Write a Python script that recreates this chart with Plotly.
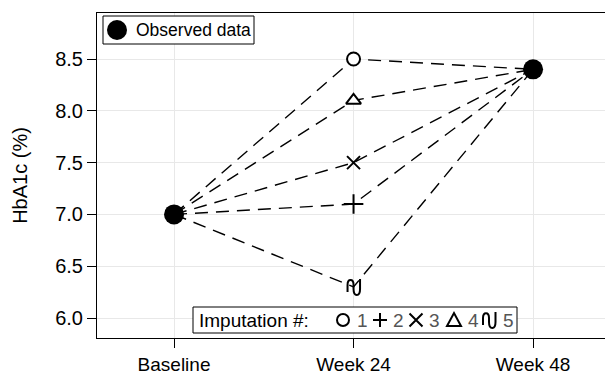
import plotly.graph_objects as go

visits = ["Baseline", "Week 24", "Week 48"]
baseline_value = 7.0
week48_value = 8.4
imputation_ids = ["1", "2", "3", "4", "5"]
week24_values = [8.5, 7.1, 7.5, 8.1, 6.3]
y_ticks = [6.0, 6.5, 7.0, 7.5, 8.0, 8.5]
observed_label = "Observed data"

FONT = "Liberation Sans"
# page body has an 8px default margin, so the figure is drawn at (8, 8)
OFF = 8
W, H = 613 - OFF, 375 - OFF
PLOT_L, PLOT_R, PLOT_T, PLOT_B = 97, 609, 13, 338   # page pixels of the plot frame
L = PLOT_L - OFF
T = PLOT_T - OFF
R = W - (PLOT_R - OFF)
B = H - (PLOT_B - OFF)
PW, PH = PLOT_R - PLOT_L, PLOT_B - PLOT_T


def px(xp):
    return (xp - PLOT_L) / PW


def py(yp):
    return (PLOT_B - yp) / PH


# pixel-relative glyph paths (style only)
PLUS = "M -7,0 L 7,0 M 0,-7 L 0,7"
XMARK = "M -6.5,-6.5 L 6.5,6.5 M -6.5,6.5 L 6.5,-6.5"
TRI = "M -7,-6 L 7,-6 L 0,7 Z"
WAVE = "M -6,-5 L -6,2 C -6,8.5 0,8.5 0,2 L 0,-2 C 0,-10 6.5,-10 6.5,-2 L 6.5,8"

fig = go.Figure()

# dashed lines for each imputation
for v in week24_values:
    fig.add_trace(go.Scatter(
        x=visits, y=[baseline_value, v, week48_value], mode="lines",
        line=dict(color="black", width=1.4, dash="13px,8px"),
        showlegend=False, hoverinfo="skip"))

# imputation markers 1-4
symbols = ["circle", "cross-thin-open", "x-thin-open", "triangle-up"]
sizes = [13, 14, 13, 13]
for i in range(4):
    fill = "white" if symbols[i] in ("circle", "triangle-up") else "black"
    fig.add_trace(go.Scatter(
        x=[visits[1]], y=[week24_values[i]], mode="markers",
        marker=dict(symbol=symbols[i], size=sizes[i], color=fill,
                    line=dict(color="black", width=2)),
        showlegend=False, hoverinfo="skip"))

# imputation 5 marker (tilde glyph anchored at the data point)
fig.add_shape(type="path", xref="x", yref="y", xsizemode="pixel", ysizemode="pixel",
              xanchor=visits[1], yanchor=week24_values[4], path=WAVE,
              line=dict(color="black", width=2))

# observed data
fig.add_trace(go.Scatter(
    x=[visits[0], visits[2]], y=[baseline_value, week48_value], mode="markers",
    marker=dict(symbol="circle", size=20, color="black"),
    name=observed_label, showlegend=False))

# top-left legend box (observed data)
fig.add_shape(type="rect", xref="paper", yref="paper",
              x0=px(103), x1=px(254), y0=py(44), y1=py(16),
              line=dict(color="black", width=1), fillcolor="white", layer="above")
fig.add_shape(type="circle", xref="paper", yref="paper", xsizemode="pixel",
              ysizemode="pixel", xanchor=px(117), yanchor=py(30), x0=-10, x1=10,
              y0=-10, y1=10, line=dict(color="black", width=0), fillcolor="black",
              layer="above")
fig.add_annotation(x=px(134), y=py(30), xref="paper", yref="paper", xanchor="left",
                   yanchor="middle", text=observed_label, showarrow=False,
                   font=dict(family=FONT, size=17.5, color="black"))

# bottom legend box
fig.add_shape(type="rect", xref="paper", yref="paper",
              x0=px(193), x1=px(517), y0=py(333), y1=py(307),
              line=dict(color="black", width=1), fillcolor="white", layer="above")
yc = py(320)
fig.add_annotation(x=px(197), y=yc, xref="paper", yref="paper", xanchor="left",
                   yanchor="middle", text="Imputation #:", showarrow=False,
                   font=dict(family=FONT, size=19, color="black"))
fig.add_shape(type="circle", xref="paper", yref="paper", xsizemode="pixel",
              ysizemode="pixel", xanchor=px(343), yanchor=yc, x0=-6, x1=6, y0=-6, y1=6,
              line=dict(color="black", width=2), layer="above")
glyphs = [PLUS, XMARK, TRI, WAVE]
glyph_x = [380, 416, 454, 489]
for g, gx in zip(glyphs, glyph_x):
    fig.add_shape(type="path", xref="paper", yref="paper", xsizemode="pixel",
                  ysizemode="pixel", xanchor=px(gx), yanchor=yc, path=g,
                  line=dict(color="black", width=2), layer="above")
label_x = [362, 398, 434, 473, 508]
for lab, lx in zip(imputation_ids, label_x):
    fig.add_annotation(x=px(lx), y=yc, xref="paper", yref="paper", xanchor="center",
                       yanchor="middle", text=lab, showarrow=False,
                       font=dict(family=FONT, size=19, color="#555555"))

fig.update_layout(
    width=W, height=H,
    margin=dict(l=L, r=R, t=T, b=B, autoexpand=False),
    paper_bgcolor="white", plot_bgcolor="white",
    font=dict(family=FONT, size=19, color="black"),
    showlegend=False,
    xaxis=dict(type="category", range=[-0.429, 2.423], showgrid=True, gridcolor="#e8e8e8",
               showline=True, linecolor="black", linewidth=1, mirror=True,
               ticks="outside", ticklen=9, tickcolor="black", automargin=False,
               tickfont=dict(family=FONT, size=19), zeroline=False),
    yaxis=dict(range=[5.807, 8.944], tickvals=y_ticks,
               ticktext=[f"{t:.1f}" for t in y_ticks],
               showgrid=True, gridcolor="#e8e8e8", automargin=False,
               showline=True, linecolor="black", linewidth=1, mirror=True,
               ticks="outside", ticklen=9, tickcolor="black",
               tickfont=dict(family=FONT, size=20),
               title=dict(text="HbA1c (%)", font=dict(family=FONT, size=20), standoff=22),
               zeroline=False),
)

fig.write_html("out.html")
